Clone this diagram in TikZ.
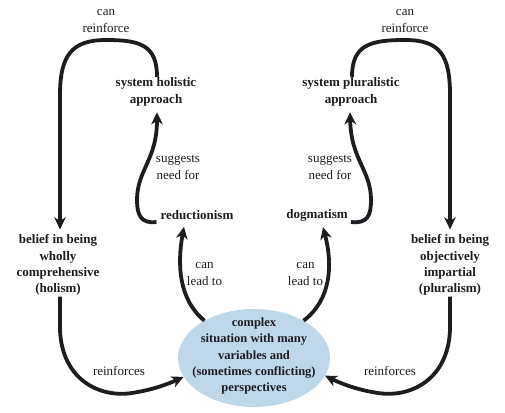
\documentclass[tikz,border=0pt]{standalone}
\usepackage{fontspec}
\setmainfont{Liberation Serif}
\usetikzlibrary{arrows.meta,shapes.geometric}
\definecolor{ellblue}{RGB}{190,216,234}
\definecolor{ink}{RGB}{30,28,32}
\begin{document}
\begin{tikzpicture}[x=1pt,y=-1pt,
  txt/.style={align=center,inner sep=1pt,text=ink,font=\fontsize{13}{16.3}\selectfont},
  bold/.style={txt,font=\fontsize{13}{16.3}\selectfont\bfseries},
  ebold/.style={txt,font=\fontsize{12.5}{16.2}\selectfont\bfseries},
  conn/.style={line width=3.8pt,ink,-{Stealth[length=12pt,width=11.5pt,inset=3.5pt]}}]
\useasboundingbox (0,0) rectangle (505,412);
\node[ellipse,fill=ellblue,minimum width=152pt,minimum height=98pt,inner sep=0pt] (ell) at (254,358) {};
\node[ebold] (etext) at (254,356) {complex\\situation with many\\variables and\\(sometimes conflicting)\\perspectives};
\node[txt] (cr1) at (106,21) {can\\reinforce};
\node[txt] (cr2) at (405,21) {can\\reinforce};
\node[bold] (sha) at (156,92) {system holistic\\approach};
\node[bold] (spa) at (351,92) {system pluralistic\\approach};
\node[txt] (sn1) at (178,167.5) {suggests\\need for};
\node[txt] (sn2) at (330,167.5) {suggests\\need for};
\node[bold] (red) at (197,215) {reductionism};
\node[bold] (dog) at (317,215) {dogmatism};
\node[bold] (bh) at (58,265) {belief in being\\wholly\\comprehensive\\(holism)};
\node[bold] (bp) at (450,265) {belief in being\\objectively\\impartial\\(pluralism)};
\node[txt] (cl1) at (204.5,274) {can\\lead to};
\node[txt] (cl2) at (305.5,274) {can\\lead to};
\node[txt] (rf1) at (119,371) {reinforces};
\node[txt] (rf2) at (390,371) {reinforces};
% left outer loop
\draw[conn] ([xshift=1pt]sha.north) .. controls (157,45) and (140,40) .. (106,40)
  .. controls (72,40) and (60,55) .. (60,95) -- ([shift={(2pt,4pt)}]bh.north);
% right outer loop
\draw[conn] ([xshift=1pt]spa.north) .. controls (352,45) and (370,40) .. (405,40)
  .. controls (440,40) and (450,55) .. (450,95) -- ([yshift=4pt]bp.north);
% suggests need for (left)
\draw[conn] ([shift={(-3pt,-7pt)}]red.west) .. controls (141,224) and (137,215) .. (137,200)
  .. controls (137,170) and (157,160) .. ([shift={(1pt,-5pt)}]sha.south);
% suggests need for (right)
\draw[conn] ([shift={(2pt,-7pt)}]dog.east) .. controls (368,224) and (371,215) .. (371,200)
  .. controls (371,170) and (351,160) .. ([shift={(-1pt,-5pt)}]spa.south);
% can lead to
\draw[conn] (ell.143) .. controls (179,300) and (177,265) .. ([shift={(-13pt,-6pt)}]red.south);
\draw[conn] (ell.37) .. controls (331,300) and (333,265) .. ([shift={(6pt,-5pt)}]dog.south);
% reinforces
\draw[conn] ([xshift=2pt]bh.south) -- (60,330) .. controls (62,380) and (100,398) .. (132,393)
  .. controls (152,390) and (168,384) .. (ell.195);
\draw[conn] (bp.south) -- (450,330) .. controls (448,380) and (410,398) .. (378,393)
  .. controls (358,390) and (342,384) .. (ell.-14);
\end{tikzpicture}
\end{document}
